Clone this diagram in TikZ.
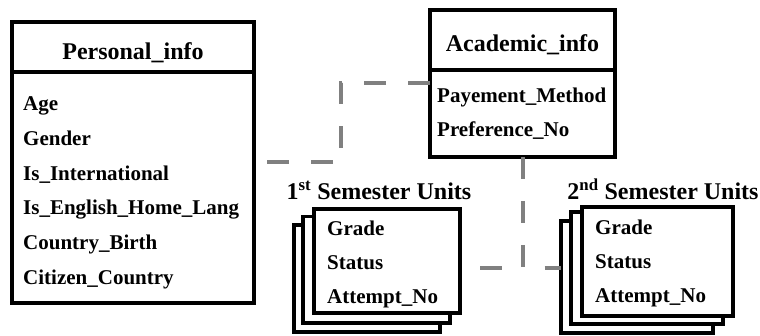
\documentclass[tikz,border=0pt]{standalone}
\usepackage{fontspec}
\setmainfont{Liberation Serif}
\definecolor{linkgray}{RGB}{128,128,128}
\begin{document}
\begin{tikzpicture}[x=1pt,y=-1pt,
  box/.style={draw=black, line width=3.5pt, fill=white, rectangle,
              inner sep=0pt, outer sep=0pt},
  rule/.style={draw=black, line width=3.5pt},
  link/.style={draw=linkgray, line width=4pt, dash pattern=on 22pt off 22pt},
  title/.style={font=\fontsize{24}{26}\selectfont\bfseries, inner sep=0pt, anchor=base},
  attr/.style={font=\fontsize{21}{24}\selectfont\bfseries, inner sep=0pt, anchor=base west},
]
\useasboundingbox (0,0) rectangle (760,336);

% Personal_info entity
\node[box, minimum width=242pt, minimum height=281pt] (pers) at (133,162.5) {};
\draw[rule] (12,72) -- (254,72);
\node[title] (perst) at (133,59.3) {Personal\_info};
\node[attr] (p1) at (23,111)   {Age};
\node[attr] (p2) at (23,145.7) {Gender};
\node[attr] (p3) at (23,180.3) {Is\_International};
\node[attr] (p4) at (23,215)   {Is\_English\_Home\_Lang};
\node[attr] (p5) at (23,249.7) {Country\_Birth};
\node[attr] (p6) at (23,284.4) {Citizen\_Country};

% Academic_info entity
\node[box, minimum width=185pt, minimum height=147pt] (acad) at (522.5,83.5) {};
\draw[rule] (430,70) -- (615,70);
\node[title] (acadt) at (522.5,51.7) {Academic\_info};
\node[attr] (a1) at (437,102.5) {Payement\_Method};
\node[attr] (a2) at (437,137)   {Preference\_No};

% 1st semester units (stacked)
\node[box, minimum width=146pt, minimum height=107pt]   (s1c) at (367,278.5)   {};
\node[box, minimum width=147pt, minimum height=106.5pt] (s1b) at (376.5,269.75) {};
\node[box, minimum width=146pt, minimum height=104pt]   (s1a) at (387,261)     {};
\node[title] (s1t) at (379,200) {1\textsuperscript{st} Semester Units};
\node[attr] (u1) at (327,236) {Grade};
\node[attr] (u2) at (327,270) {Status};
\node[attr] (u3) at (327,304) {Attempt\_No};

% 2nd semester units (stacked)
\node[box, minimum width=152pt, minimum height=112pt] (s2c) at (637,277)     {};
\node[box, minimum width=152pt, minimum height=112pt] (s2b) at (647,268)     {};
\node[box, minimum width=151pt, minimum height=109pt] (s2a) at (657.5,261.5) {};
\node[title] (s2t) at (663,200) {2\textsuperscript{nd} Semester Units};
\node[attr] (v1) at (595,234.5) {Grade};
\node[attr] (v2) at (595,269)   {Status};
\node[attr] (v3) at (595,303)   {Attempt\_No};

% relationships
\coordinate (bend) at (341,120);
\draw[link] (acad.west) -| (bend) |- (pers.east);

\coordinate (fork) at (522.5,268);
\draw[link] (acad.south) -- (fork) -- (fork -| s1a.east);
\draw[link, dash phase=22pt] (fork) -- (fork -| s2c.west);
\end{tikzpicture}
\end{document}
